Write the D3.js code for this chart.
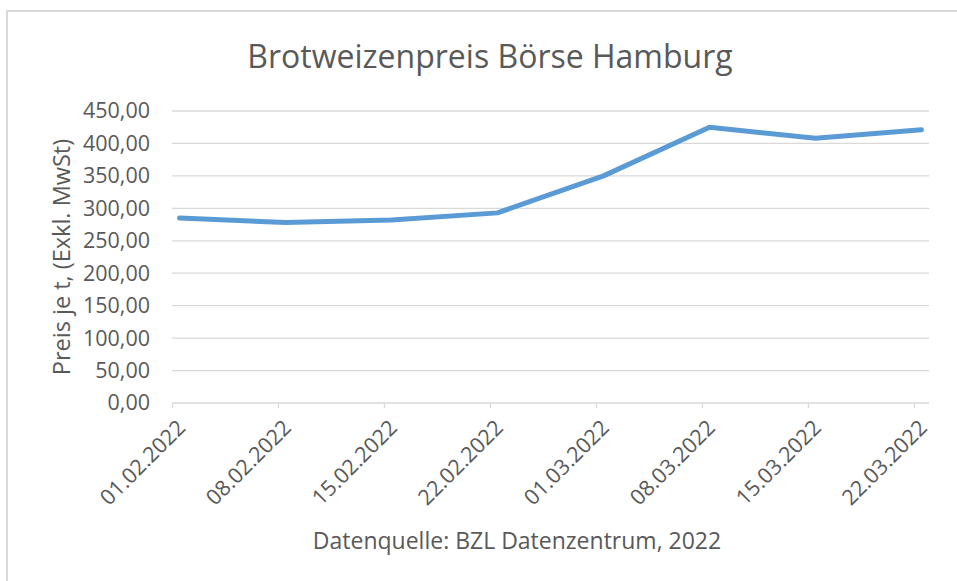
<!DOCTYPE html>
<html>
<head>
<meta charset="utf-8">
<script src="https://cdn.jsdelivr.net/npm/d3@7/dist/d3.min.js"></script>
<style>
  html, body { margin: 0; padding: 0; background: #ffffff; }
  svg { display: block; }
  text { font-family: "Open Sans", "Noto Sans", sans-serif; fill: #595959; }
</style>
</head>
<body>
<svg id="chart" width="957" height="581"></svg>
<script>
// Weekly quotation dates (dd.mm.yyyy)
const dates = ["01.02.2022", "08.02.2022", "15.02.2022", "22.02.2022",
               "01.03.2022", "08.03.2022", "15.03.2022", "22.03.2022"];
// Bread wheat price per tonne, EUR, excl. VAT
const prices = [285, 278, 282, 293, 350, 425, 408, 421];
// Value axis ticks
const yTicks = [0, 50, 100, 150, 200, 250, 300, 350, 400, 450];

const title = "Brotweizenpreis Börse Hamburg";
const yTitle = "Preis je t, (Exkl. MwSt)";
const source = "Datenquelle: BZL Datenzentrum, 2022";

const parseDate = d3.utcParse("%d.%m.%Y");
const fmtNum = v => d3.format(".2f")(v).replace(".", ",");
const DAY = 24 * 3600 * 1000;

const svg = d3.select("#chart");
const W = 957, H = 581;
const plot = { left: 172, right: 929, top: 111, bottom: 403 };

// chart frame
svg.append("rect")
  .attr("x", 7).attr("y", 11)
  .attr("width", W + 20).attr("height", H + 20)
  .attr("fill", "#ffffff")
  .attr("stroke", "#d9d9d9").attr("stroke-width", 2);

const tickDates = dates.map(parseDate);
const x = d3.scaleUtc()
  .domain([tickDates[0], new Date(+tickDates[tickDates.length - 1] + DAY)])
  .range([plot.left, plot.right]);
const y = d3.scaleLinear()
  .domain([0, 450])
  .range([plot.bottom, plot.top]);

// horizontal gridlines
svg.append("g")
  .selectAll("line")
  .data(yTicks.filter(v => v > 0))
  .join("line")
  .attr("x1", plot.left).attr("x2", plot.right)
  .attr("y1", d => y(d)).attr("y2", d => y(d))
  .attr("stroke", "#d9d9d9").attr("stroke-width", 1.3);

// value axis labels
const yAxis = d3.axisLeft(y).tickValues(yTicks).tickFormat(fmtNum).tickSize(0).tickPadding(0);
const gy = svg.append("g").attr("transform", `translate(${plot.left - 22},0)`).call(yAxis);
gy.select(".domain").remove();
gy.selectAll("text")
  .attr("font-family", null)
  .style("font-size", "21.5px")
  .attr("fill", null);

// date axis
const xAxis = d3.axisBottom(x).tickValues(tickDates).tickSize(5).tickFormat(() => "");
const gx = svg.append("g").attr("transform", `translate(0,${plot.bottom})`).call(xAxis);
gx.select(".domain")
  .attr("d", `M${plot.left},0H${plot.right}`)
  .attr("stroke", "#d9d9d9").attr("stroke-width", 1.3);
gx.selectAll(".tick line").attr("stroke", "#d9d9d9").attr("stroke-width", 1.3);

// rotated date labels
svg.append("g")
  .selectAll("text")
  .data(tickDates)
  .join("text")
  .attr("transform", d => `translate(${x(new Date(+d + DAY / 2)) + 1},${plot.bottom + 20}) rotate(-45)`)
  .attr("text-anchor", "end")
  .attr("dominant-baseline", "central")
  .style("font-size", "21.5px")
  .text((d, i) => dates[i]);

// price line (points sit mid-day on the date axis)
const line = d3.line()
  .x((d, i) => x(new Date(+tickDates[i] + DAY / 2)))
  .y(d => y(d));
svg.append("path")
  .datum(prices)
  .attr("d", line)
  .attr("fill", "none")
  .attr("stroke", "#5b9bd5")
  .attr("stroke-width", 5)
  .attr("stroke-linejoin", "round")
  .attr("stroke-linecap", "round");

// titles
svg.append("text")
  .attr("x", 490).attr("y", 68)
  .attr("text-anchor", "middle")
  .style("font-size", "32px")
  .text(title);

svg.append("text")
  .attr("transform", `translate(70,${(plot.top + plot.bottom) / 2}) rotate(-90)`)
  .attr("text-anchor", "middle")
  .style("font-size", "23.5px")
  .text(yTitle);

svg.append("text")
  .attr("x", 517).attr("y", 549)
  .attr("text-anchor", "middle")
  .style("font-size", "23px")
  .text(source);
</script>
</body>
</html>
